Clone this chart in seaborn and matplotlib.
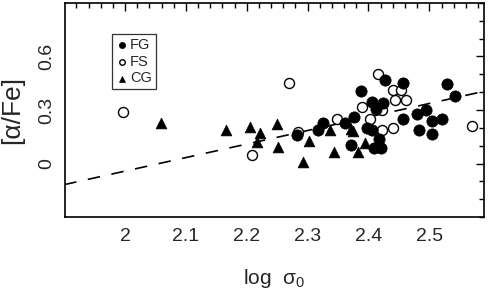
import numpy as np
import pandas as pd
import matplotlib
matplotlib.use("Agg")
import matplotlib.pyplot as plt
import seaborn as sns
from matplotlib.ticker import MultipleLocator

sns.set_style("white")
plt.rcParams['font.family'] = ['Liberation Sans', 'DejaVu Sans']
plt.rcParams['mathtext.fontset'] = 'custom'
plt.rcParams['mathtext.rm'] = 'Liberation Sans'
plt.rcParams['mathtext.it'] = 'Liberation Sans'

# ---- data ----
fg_x = [2.283, 2.317, 2.326, 2.361, 2.371, 2.377, 2.387, 2.398, 2.405, 2.405, 2.413,
        2.409, 2.417, 2.420, 2.424, 2.427, 2.457, 2.457, 2.479, 2.483, 2.494, 2.505,
        2.505, 2.520, 2.529, 2.542]
fg_y = [0.158, 0.190, 0.230, 0.230, 0.106, 0.260, 0.408, 0.202, 0.190, 0.347, 0.306,
        0.088, 0.139, 0.090, 0.342, 0.471, 0.249, 0.452, 0.277, 0.190, 0.300, 0.237,
        0.167, 0.247, 0.448, 0.380]
fs_x = [1.997, 2.209, 2.270, 2.284, 2.349, 2.390, 2.402, 2.415, 2.416, 2.422, 2.423,
        2.440, 2.440, 2.443, 2.454, 2.462, 2.570]
fs_y = [0.289, 0.048, 0.452, 0.177, 0.249, 0.319, 0.249, 0.091, 0.503, 0.190, 0.300,
        0.410, 0.199, 0.357, 0.410, 0.357, 0.209]
cg_x = [2.059, 2.166, 2.206, 2.216, 2.222, 2.249, 2.251, 2.292, 2.302, 2.336, 2.343,
        2.371, 2.374, 2.383, 2.394]
cg_y = [0.228, 0.190, 0.205, 0.122, 0.173, 0.224, 0.095, 0.010, 0.129, 0.190, 0.063,
        0.196, 0.182, 0.067, 0.118]
fit_x = [1.90, 2.59]
fit_y = [-0.118, 0.405]

x_ticks = [2.0, 2.1, 2.2, 2.3, 2.4, 2.5]
x_ticklabels = ["2", "2.1", "2.2", "2.3", "2.4", "2.5"]
y_ticks = [0.0, 0.3, 0.6]
y_ticklabels = ["0", "0.3", "0.6"]

df_fg = pd.DataFrame({"x": fg_x, "y": fg_y})
df_fs = pd.DataFrame({"x": fs_x, "y": fs_y})
df_cg = pd.DataFrame({"x": cg_x, "y": cg_y})
df_fit = pd.DataFrame({"x": fit_x, "y": fit_y})

fig = plt.figure(figsize=(4.91, 2.95), dpi=100)
ax = fig.add_axes([0.132, 0.264, 0.854, 0.726])

sns.lineplot(data=df_fit, x="x", y="y", ax=ax, color="black", lw=1.2, zorder=1)
ax.lines[0].set_dashes((7.5, 7))

sns.scatterplot(data=df_fs, x="x", y="y", ax=ax, marker="o", s=52,
                facecolor="white", edgecolor="black", linewidth=1.0, label="FS", zorder=2)
sns.scatterplot(data=df_cg, x="x", y="y", ax=ax, marker="^", s=60,
                color="black", edgecolor="black", linewidth=0.5, label="CG", zorder=3)
sns.scatterplot(data=df_fg, x="x", y="y", ax=ax, marker="o", s=66,
                color="black", edgecolor="black", linewidth=0.5, label="FG", zorder=3)

ax.set_xlim(1.901, 2.59)
ax.set_ylim(-0.3, 0.9)

ax.set_xticks(x_ticks)
ax.set_xticklabels(x_ticklabels)
ax.set_yticks(y_ticks)
ax.set_yticklabels(y_ticklabels, rotation=90, va="center")
ax.xaxis.set_minor_locator(MultipleLocator(0.02))
ax.yaxis.set_minor_locator(MultipleLocator(0.1))
ax.tick_params(which="both", direction="in", top=True, right=True, color="black", width=1)
ax.tick_params(which="major", length=6, labelsize=14)
ax.tick_params(which="minor", length=3.5)
ax.tick_params(axis="x", which="major", pad=8)
ax.tick_params(axis="y", which="major", pad=7)

for sp in ax.spines.values():
    sp.set_color("black")
    sp.set_linewidth(1.2)

ax.set_xlabel(r"log  σ$_0$", fontsize=15, labelpad=16)
ax.set_ylabel("[α/Fe]", fontsize=19, labelpad=10)

h, l = ax.get_legend_handles_labels()
order = [l.index("FG"), l.index("FS"), l.index("CG")]
leg = ax.legend([h[i] for i in order], [l[i] for i in order],
                loc="upper left", bbox_to_anchor=(0.112, 0.855), frameon=True,
                fancybox=False, edgecolor="black", fontsize=10.5, markerscale=0.55,
                handletextpad=0.1, handlelength=0.9, borderpad=0.25, labelspacing=0.2,
                borderaxespad=0)
leg.get_frame().set_linewidth(0.9)

fig.savefig("out.png", dpi=100)
